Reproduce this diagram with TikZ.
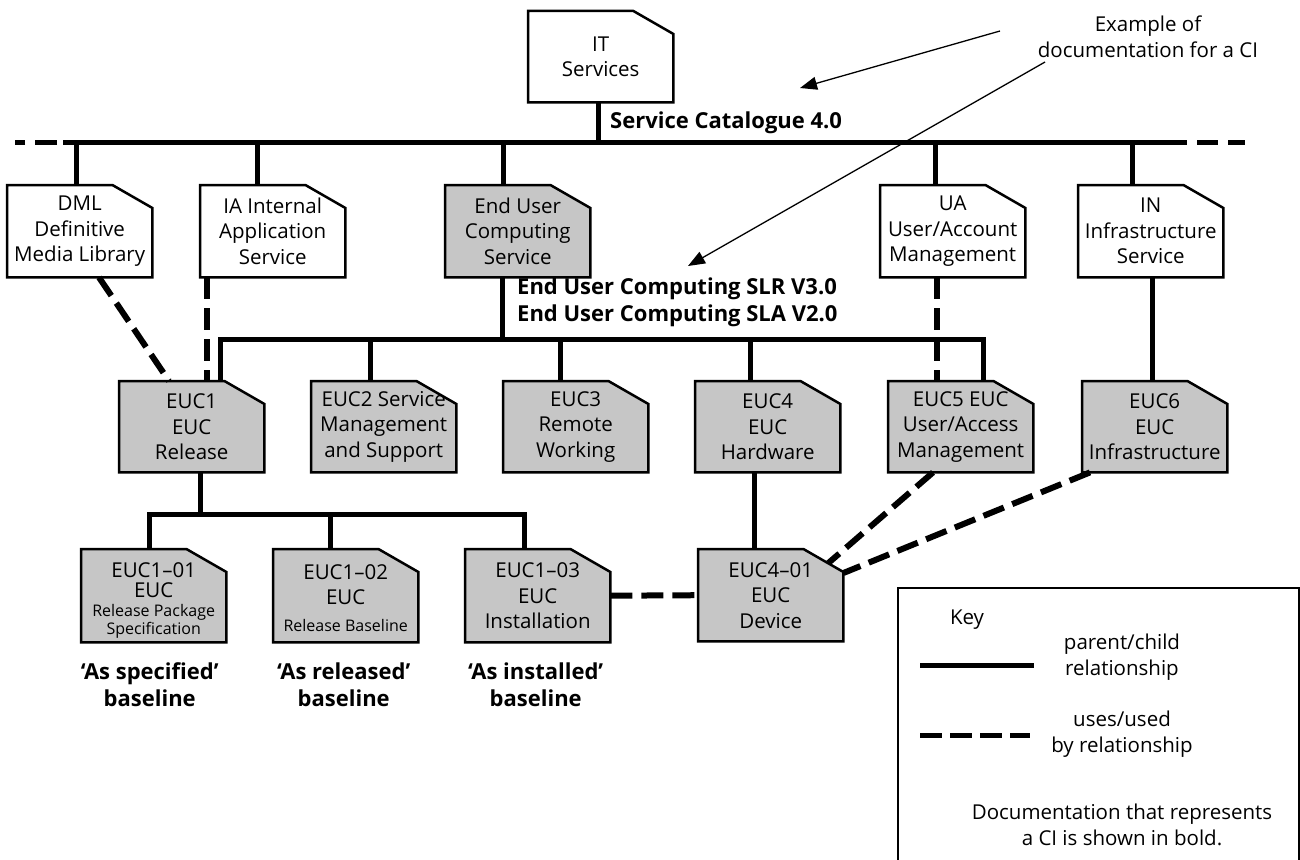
\documentclass[tikz,border=0pt]{standalone}
\usepackage{fontspec}
\setmainfont{Open Sans}
\usetikzlibrary{arrows.meta,calc}
\pgfdeclarelayer{background}
\pgfsetlayers{background,main}
\definecolor{docgray}{RGB}{198,198,198}
\newcommand\nf{\fontsize{20.5}{25.5}\selectfont}
\newcommand\lblf{\fontsize{22}{27}\selectfont\bfseries}
\begin{document}
\begin{tikzpicture}[x=1pt,y=-1pt,
  doc/.style={anchor=north west, minimum width=145pt, minimum height=92pt,
    inner sep=0pt, align=center, font=\nf},
  pc/.style={line width=5pt},
  uses/.style={line width=6pt, dash pattern=on 22pt off 9pt},
  outline/.style={line width=2.5pt, line join=miter},
  note/.style={line width=1.3pt, -{Triangle[length=17pt,width=13pt]}},
  lbl/.style={font=\lblf, inner sep=0pt, align=left},
  plain/.style={font=\nf, inner sep=0pt, align=center},
]
\useasboundingbox (0,0) rectangle (1300,859);

% ---- documents ----
\node[doc, minimum height=91pt] (it) at (528,11) {IT\\Services};
\node[doc] (dml)  at (7,185)    {DML\\Definitive\\Media Library};
\node[doc] (ia)   at (200,185)  {IA Internal\\Application\\Service};
\node[doc] (eucs) at (445,185)  {End User\\Computing\\Service};
\node[doc] (ua)   at (880,185)  {UA\\User/Account\\Management};
\node[doc] (inf)  at (1078,185) {IN\\Infrastructure\\Service};

\node[doc, minimum height=91pt] (euc1) at (119,381)  {EUC1\\EUC\\Release};
\node[doc, minimum height=91pt] (euc2) at (311,381)  {EUC2 Service\\Management\\and Support};
\node[doc, minimum height=91pt] (euc3) at (503,381)  {EUC3\\Remote\\Working};
\node[doc, minimum height=91pt] (euc4) at (695,381)  {EUC4\\EUC\\Hardware};
\node[doc, minimum height=91pt] (euc5) at (888,381)  {EUC5 EUC\\User/Access\\Management};
\node[doc, minimum height=91pt] (euc6) at (1082,381) {EUC6\\EUC\\Infrastructure};

\node[doc, minimum height=93pt] (e101) at (81,549)
  {\parbox{145pt}{\vspace*{10pt}\centering\fontsize{20.5}{20}\selectfont EUC1--01\\EUC\par
   \fontsize{16}{18.5}\selectfont Release Package\\Specification\par}};
\node[doc, minimum height=93pt] (e102) at (273,549)
  {\parbox{145pt}{\vspace*{4pt}\centering\fontsize{20.5}{25}\selectfont EUC1--02\\EUC\par
   \fontsize{16}{27}\selectfont Release Baseline\par}};
\node[doc, minimum height=93pt] (e103) at (465,549) {EUC1--03\\EUC\\Installation};
\node[doc, minimum height=92pt] (e401) at (698,549) {EUC4--01\\EUC\\Device};

% document outlines with the folded top-right corner
\begin{pgfonlayer}{background}
  \foreach \n in {it,dml,ia,ua,inf}{
    \draw[outline, fill=white] (\n.north west) -- ([xshift=-40pt]\n.north east)
      -- ([yshift=-23pt]\n.north east) -- (\n.south east) -- (\n.south west) -- cycle;
  }
  \foreach \n in {eucs,euc1,euc2,euc3,euc4,euc5,euc6,e101,e102,e103,e401}{
    \draw[outline, fill=docgray] (\n.north west) -- ([xshift=-40pt]\n.north east)
      -- ([yshift=-23pt]\n.north east) -- (\n.south east) -- (\n.south west) -- cycle;
  }
\end{pgfonlayer}

% ---- service catalogue bus ----
\coordinate (busL) at (63,142);
\coordinate (busR) at (1187,142);
\draw[pc] (busL) -- (busR);
\draw[pc, dash pattern=on 0pt off 6pt on 22pt off 10pt on 10pt off 80pt] (busL) -- ++(-48,0);
\draw[pc, dash pattern=on 0pt off 10pt on 21pt off 10pt on 17pt off 80pt] (busR) -- ++(58,0);
\draw[pc] ([xshift=70pt]it.south west) -- ++(0,40);
\draw[pc] ([xshift=69pt]dml.north west) -- ++(0,-43);
\draw[pc] ([xshift=57pt]ia.north west) -- ++(0,-43);
\draw[pc] ([xshift=58pt]eucs.north west) -- ++(0,-43);
\draw[pc] ([xshift=55pt]ua.north west) -- ++(0,-43);
\draw[pc] ([xshift=54pt]inf.north west) -- ++(0,-43);
\node[lbl, anchor=west] (sc) at (610,123) {Service Catalogue 4.0};

% ---- end user computing tree ----
\draw[pc] ([xshift=57pt]eucs.south west) -- ++(0,62);
\draw[pc] ([xshift=101pt]euc1.north west) -- ++(0,-42) -| ([xshift=95pt]euc5.north west);
\draw[pc] ([xshift=59pt]euc2.north west) -- ++(0,-42);
\draw[pc] ([xshift=57pt]euc3.north west) -- ++(0,-42);
\draw[pc] ([xshift=55pt]euc4.north west) -- ++(0,-42);
\node[lbl, anchor=north west] (sl) at (517,278)
  {End User Computing SLR V3.0\\End User Computing SLA V2.0};

\draw[pc] ([xshift=74pt]inf.south west) -- ([xshift=70pt]euc6.north west);
\draw[pc] ([xshift=81pt]euc1.south west) -- ++(0,42);
\draw[pc] ([xshift=68pt]e101.north west) -- ++(0,-35) -| ([xshift=59pt]e103.north west);
\draw[pc] ([xshift=57pt]e102.north west) -- ++(0,-35);
\draw[pc] ([xshift=59pt]euc4.south west) -- ([xshift=56pt]e401.north west);

% ---- uses / used by ----
\draw[uses] ([xshift=92pt]dml.south west) -- ([xshift=50pt]euc1.north west);
\draw[uses] ([xshift=7pt]ia.south west) -- ([xshift=88pt]euc1.north west);
\draw[uses] ([xshift=57pt]ua.south west) -- ([xshift=49pt]euc5.north west);
\draw[uses] (e103.east) -- (e401.west);
\draw[uses] ([xshift=45pt]euc5.south west) -- ([xshift=-15pt,yshift=-14pt]e401.north east);
\draw[uses] ([xshift=8pt]euc6.south west) -- ([yshift=-24pt]e401.north east);

% ---- baseline labels ----
\node[lbl, align=center] (b1) at ($(e101.south)+(-4,42)$) {‘As specified’\\baseline};
\node[lbl, align=center] (b2) at ($(e102.south)+(-2,42)$) {‘As released’\\baseline};
\node[lbl, align=center] (b3) at ($(e103.south)+(-2,42)$) {‘As installed’\\baseline};

% ---- annotation ----
\node[plain] (ex) at (1148,37) {Example of\\documentation for a CI};
\coordinate (a1) at (1000,31);
\coordinate (t1) at (800,88);
\coordinate (a2) at (1045,62);
\coordinate (t2) at (688,266);
\draw[note] (a1) -- (t1);
\draw[note] (a2) -- (t2);

% ---- key ----
\draw[line width=2pt] (898,588) rectangle (1299,880);
\node[plain] (key) at (967,620) {Key};
\coordinate (k1a) at (920,665);
\coordinate (k1b) at (1034,665);
\draw[pc] (k1a) -- (k1b);
\node[plain] (kpc) at (1122,657) {parent/child\\relationship};
\coordinate (k2a) at (920,735);
\coordinate (k2b) at (1030,735);
\draw[pc, dash pattern=on 22pt off 8pt] (k2a) -- (k2b);
\node[plain] (kuse) at (1122,734) {uses/used\\by relationship};
\node[plain] (kdoc) at (1122,825) {Documentation that represents\\a CI is shown in bold.};
\end{tikzpicture}
\end{document}
